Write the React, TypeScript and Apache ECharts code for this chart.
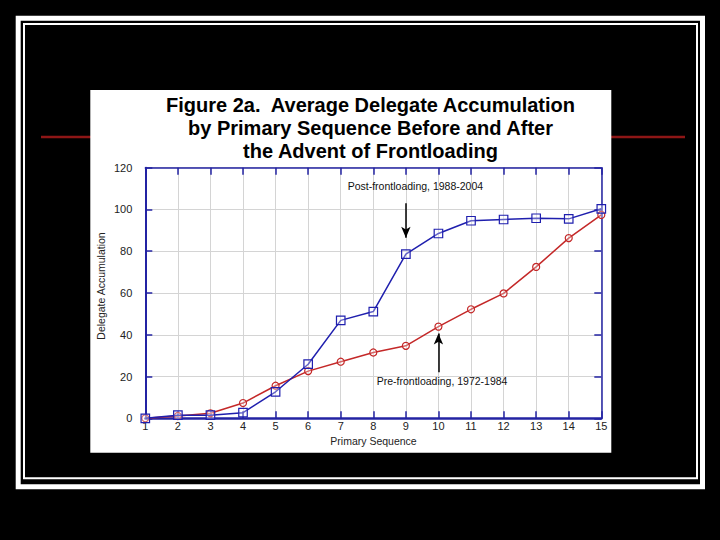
import React, { useEffect, useRef } from "react";
import * as echarts from "echarts";

const sequence = [1, 2, 3, 4, 5, 6, 7, 8, 9, 10, 11, 12, 13, 14, 15];
const postFrontloading = [0, 1.5, 1.5, 2.7, 12.7, 25.9, 46.9, 51.1, 78.6, 88.5, 94.6, 95.2, 95.8, 95.5, 100.3];
const preFrontloading = [0, 1.1, 2.4, 7.3, 15.6, 22.6, 27.1, 31.5, 34.7, 43.9, 52.2, 59.8, 72.5, 86.3, 97.4];
const titleLines = [
  "Figure 2a.  Average Delegate Accumulation",
  "by Primary Sequence Before and After",
  "the Advent of Frontloading",
];
const postLabel = "Post-frontloading, 1988-2004";
const preLabel = "Pre-frontloading, 1972-1984";
const postArrow = { seq: 9, from: 103, to: 86.5 };
const preArrow = { seq: 10, from: 22, to: 40.6 };

const FONT = "'Liberation Sans', Arial, Helvetica, sans-serif";
const AXIS_BLUE = "#2323a3";
const BLUE = "#1f1fae";
const RED = "#c42828";

export default function App() {
  const ref = useRef<HTMLDivElement>(null);
  useEffect(() => {
    if (!ref.current) return;
    const chart = echarts.init(ref.current, undefined, { renderer: "svg" });
    const pairs = (ys: number[]) => sequence.map((x, i) => [x, ys[i]]);
    const option: any = {
      animation: false,
      backgroundColor: "#000",
      textStyle: { fontFamily: FONT },
      grid: { left: 145.3, top: 167.7, width: 456, height: 250.6 },
      xAxis: [
        {
          type: "value",
          min: 1,
          max: 15,
          interval: 1,
          position: "bottom",
          axisLine: { show: true, onZero: false, lineStyle: { color: AXIS_BLUE, width: 2.5 } },
          axisTick: { show: true, inside: true, length: 7, lineStyle: { color: AXIS_BLUE, width: 1.5 } },
          axisLabel: { color: "#222", fontSize: 11, margin: 2, fontFamily: FONT },
          splitLine: { show: true, lineStyle: { color: "#d4d4d4", width: 1 } },
        },
        {
          type: "value",
          min: 1,
          max: 15,
          interval: 1,
          position: "top",
          axisLine: { show: true, onZero: false, lineStyle: { color: AXIS_BLUE, width: 1.5 } },
          axisTick: { show: true, inside: true, length: 7, lineStyle: { color: AXIS_BLUE, width: 1.5 } },
          axisLabel: { show: false },
          splitLine: { show: false },
        },
      ],
      yAxis: [
        {
          type: "value",
          min: 0,
          max: 120,
          interval: 20,
          position: "left",
          axisLine: { show: true, onZero: false, lineStyle: { color: AXIS_BLUE, width: 2 } },
          axisTick: { show: true, inside: true, length: 7, lineStyle: { color: AXIS_BLUE, width: 1.5 } },
          axisLabel: { color: "#222", fontSize: 11, margin: 13, fontFamily: FONT },
          splitLine: { show: true, lineStyle: { color: "#d4d4d4", width: 1 } },
        },
        {
          type: "value",
          min: 0,
          max: 120,
          interval: 20,
          position: "right",
          axisLine: { show: true, onZero: false, lineStyle: { color: AXIS_BLUE, width: 1.5 } },
          axisTick: { show: true, inside: true, length: 7, lineStyle: { color: AXIS_BLUE, width: 1.5 } },
          axisLabel: { show: false },
          splitLine: { show: false },
        },
      ],
      series: [
        {
          name: "Pre-frontloading",
          type: "line",
          data: pairs(preFrontloading),
          symbol: "circle",
          symbolSize: 7,
          lineStyle: { color: RED, width: 1.5 },
          itemStyle: { color: "rgba(255,255,255,0.3)", borderColor: RED, borderWidth: 1.2 },
          z: 3,
          markLine: {
            silent: true,
            symbol: ["none", "arrow"],
            symbolSize: [7, 11],
            label: { show: false },
            lineStyle: { color: "#000", width: 1.5, type: "solid" },
            data: [[{ coord: [preArrow.seq, preArrow.from] }, { coord: [preArrow.seq, preArrow.to] }]],
          },
        },
        {
          name: "Post-frontloading",
          type: "line",
          data: pairs(postFrontloading),
          symbol: "rect",
          symbolSize: 8.5,
          lineStyle: { color: BLUE, width: 1.5 },
          itemStyle: { color: "rgba(255,255,255,0.3)", borderColor: BLUE, borderWidth: 1.2 },
          z: 4,
          markLine: {
            silent: true,
            symbol: ["none", "arrow"],
            symbolSize: [7, 11],
            label: { show: false },
            lineStyle: { color: "#000", width: 1.5, type: "solid" },
            data: [[{ coord: [postArrow.seq, postArrow.from] }, { coord: [postArrow.seq, postArrow.to] }]],
          },
        },
      ],
      graphic: [
        {
          type: "rect",
          z: -30,
          shape: { x: 18.2, y: 18.2, width: 684.3, height: 468.5 },
          style: { fill: "none", stroke: "#fff", lineWidth: 5 },
        },
        {
          type: "rect",
          z: -30,
          shape: { x: 24, y: 24, width: 673, height: 454.3 },
          style: { fill: "none", stroke: "#fff", lineWidth: 2 },
        },
        {
          type: "line",
          z: -25,
          shape: { x1: 41, y1: 137, x2: 685, y2: 137 },
          style: { stroke: "#8e1616", lineWidth: 2.5 },
        },
        {
          type: "rect",
          z: -20,
          shape: { x: 90.3, y: 90, width: 521, height: 362.7 },
          style: { fill: "#fff" },
        },
        ...titleLines.map((t, i) => ({
          type: "text",
          z: 10,
          x: 370.5,
          y: 105 + i * 23,
          style: {
            text: t,
            fill: "#000",
            font: `bold 20px ${FONT}`,
            textAlign: "center",
            textVerticalAlign: "middle",
          },
        })),
        {
          type: "text",
          z: 10,
          x: 101,
          y: 286,
          rotation: Math.PI / 2,
          style: {
            text: "Delegate Accumulation",
            fill: "#222",
            font: `10.5px ${FONT}`,
            textAlign: "center",
            textVerticalAlign: "middle",
          },
        },
        {
          type: "text",
          z: 10,
          x: 373.5,
          y: 441,
          style: {
            text: "Primary Sequence",
            fill: "#222",
            font: `10.5px ${FONT}`,
            textAlign: "center",
            textVerticalAlign: "middle",
          },
        },
        {
          type: "text",
          z: 10,
          x: 347.7,
          y: 186,
          style: {
            text: postLabel,
            fill: "#111",
            font: `10.5px ${FONT}`,
            textAlign: "left",
            textVerticalAlign: "middle",
          },
        },
        {
          type: "text",
          z: 10,
          x: 376.7,
          y: 381,
          style: {
            text: preLabel,
            fill: "#111",
            font: `10.5px ${FONT}`,
            textAlign: "left",
            textVerticalAlign: "middle",
          },
        },
      ],
    };
    chart.setOption(option);
    return () => chart.dispose();
  }, []);
  return (
    <div
      ref={ref}
      style={{ position: "fixed", left: 0, top: 0, width: 720, height: 540, background: "#000" }}
    />
  );
}
